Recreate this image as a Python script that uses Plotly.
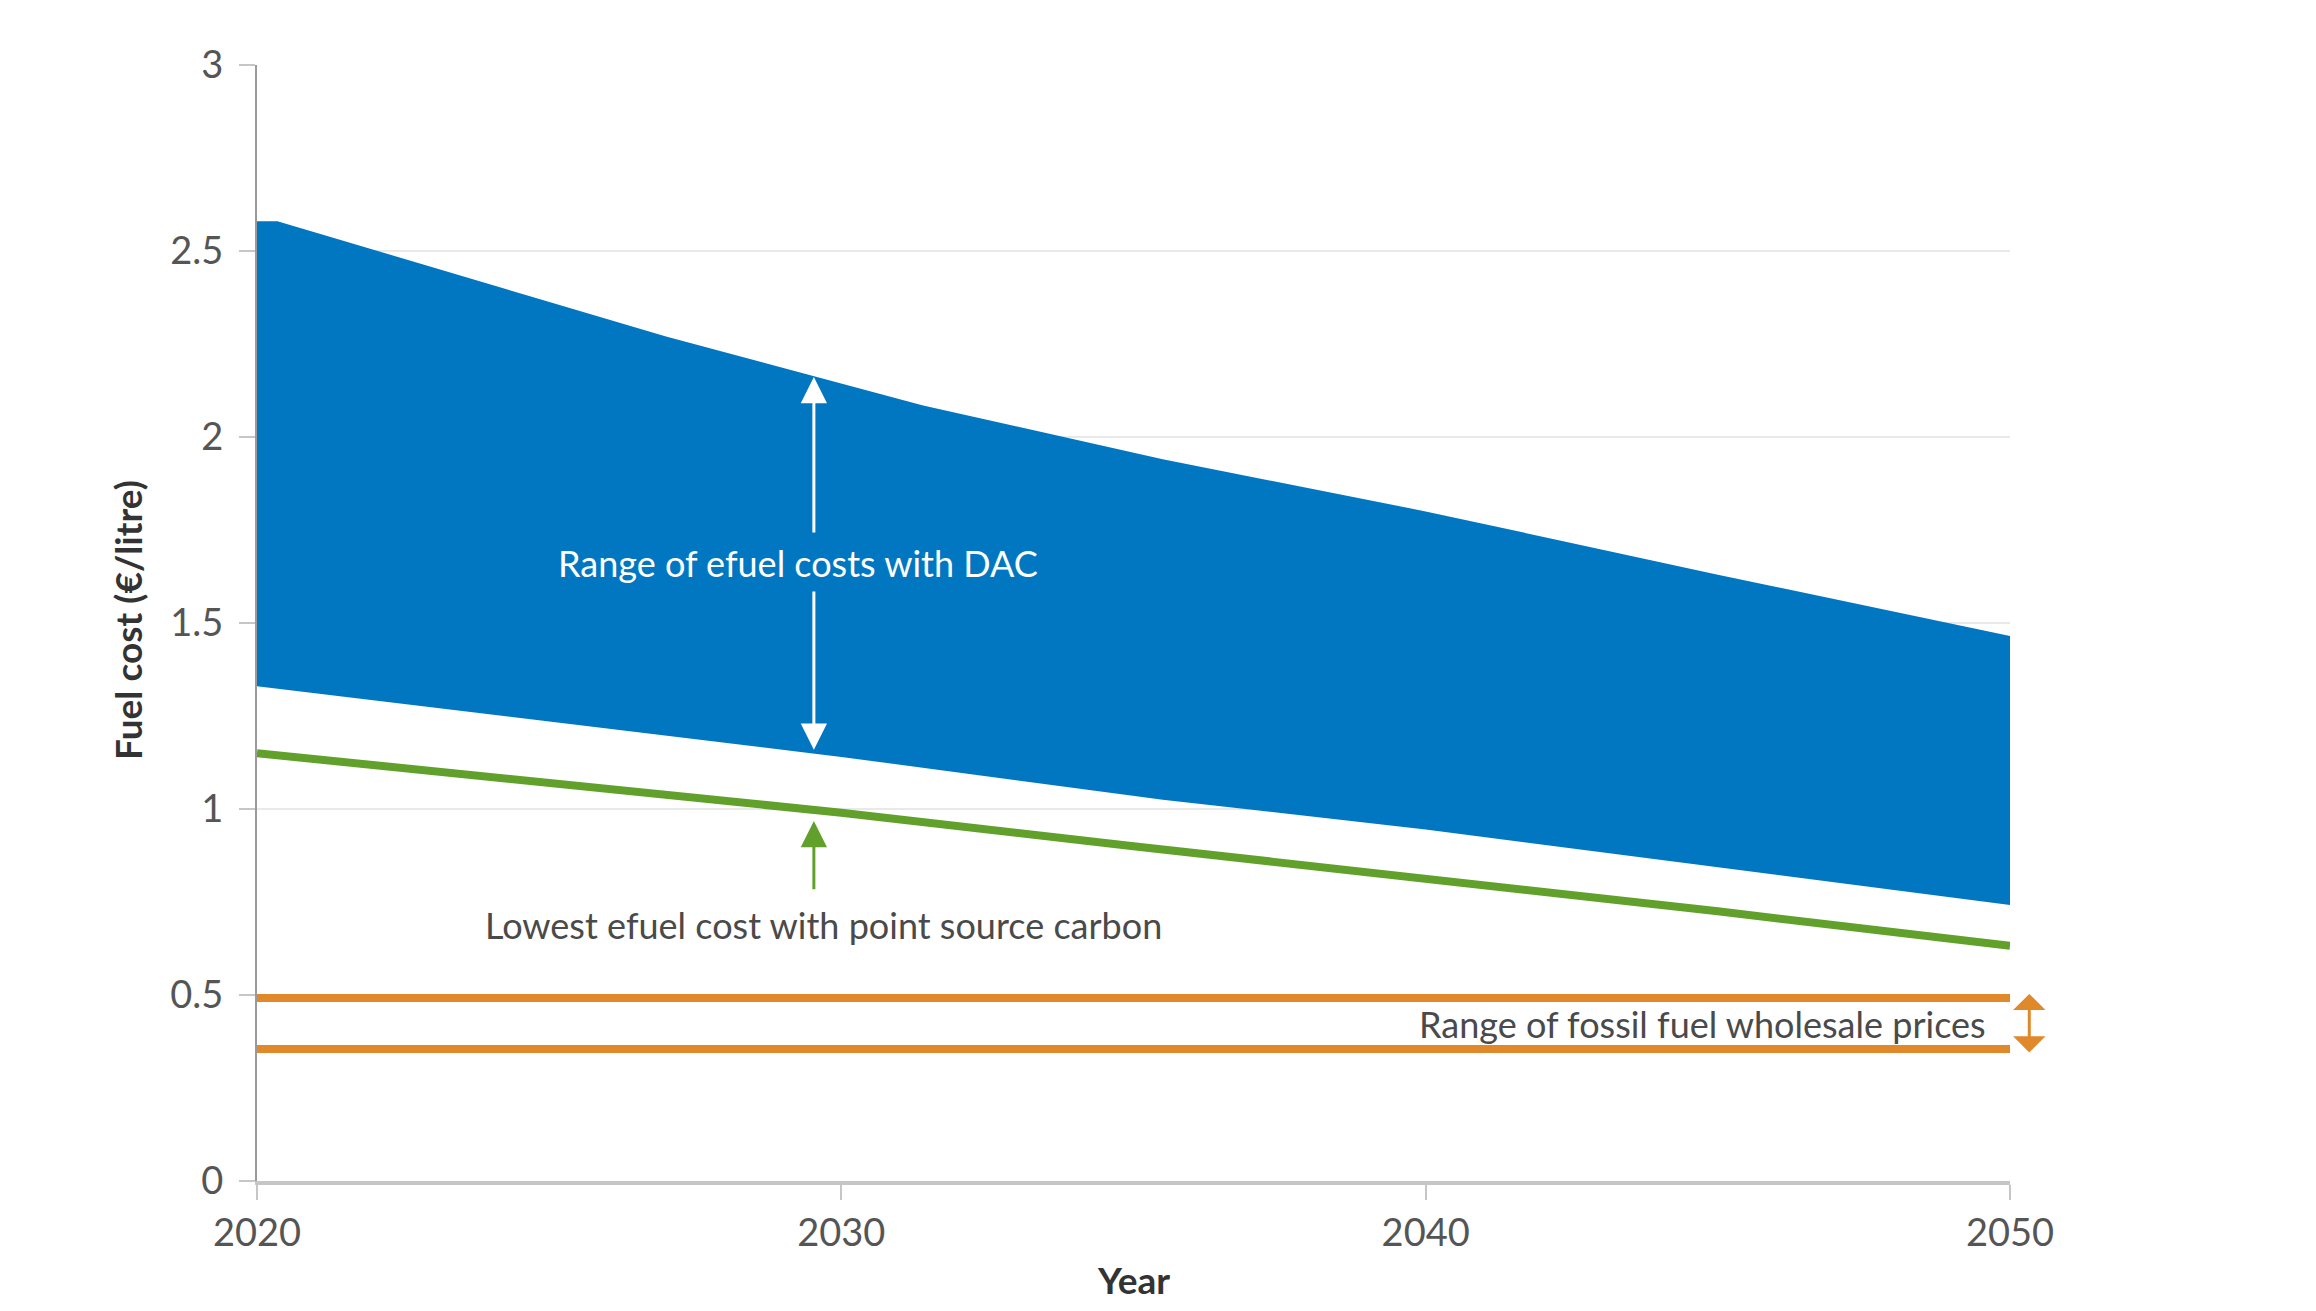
import plotly.graph_objects as go

# upper and lower edge of the DAC cost band (EUR/litre)
dac_high_years = [2020, 2020.35, 2027, 2029.5, 2031.4, 2035.5, 2040, 2045, 2050]
dac_high = [2.58, 2.58, 2.27, 2.165, 2.085, 1.94, 1.80, 1.63, 1.465]
dac_low_years = [2020, 2030, 2035.5, 2040, 2050]
dac_low = [1.33, 1.14, 1.025, 0.945, 0.742]

# lowest cost with point source carbon
point_years = [2020, 2025, 2030, 2035, 2040, 2045, 2050]
point_source = [1.15, 1.07, 0.99, 0.90, 0.815, 0.725, 0.632]

# fossil fuel wholesale price range
fossil_years = [2020, 2050]
fossil_high = [0.492, 0.492]
fossil_low = [0.355, 0.355]

year_ticks = [2020, 2030, 2040, 2050]

BLUE = "#0277c1"
GREEN = "#62a02c"
ORANGE = "#e0892a"
FONT = "Lato"

fig = go.Figure()

fig.add_trace(
    go.Scatter(
        x=dac_high_years + dac_low_years[::-1],
        y=dac_high + dac_low[::-1],
        fill="toself",
        fillcolor=BLUE,
        line=dict(width=0),
        mode="lines",
        hoverinfo="skip",
    )
)

fig.add_trace(
    go.Scatter(x=point_years, y=point_source, mode="lines",
               line=dict(color=GREEN, width=8))
)

for vals in (fossil_high, fossil_low):
    fig.add_trace(
        go.Scatter(x=fossil_years, y=vals, mode="lines",
                   line=dict(color=ORANGE, width=8))
    )

# arrows
arrow_x = 2029.53
for tip, tail in ((2.161, 1.739), (1.159, 1.589)):
    fig.add_annotation(
        x=arrow_x, y=tip, ax=arrow_x, ay=tail, xref="x", yref="y",
        axref="x", ayref="y", text="", showarrow=True,
        arrowhead=2, arrowsize=1.75, arrowwidth=3, arrowcolor="white",
    )
fig.add_annotation(
    x=arrow_x, y=0.968, ax=arrow_x, ay=0.78, xref="x", yref="y",
    axref="x", ayref="y", text="", showarrow=True,
    arrowhead=2, arrowsize=1.75, arrowwidth=3, arrowcolor=GREEN,
)
fig.add_annotation(
    x=1.011, y=0.503, xref="paper", yref="y", ax=0, ay=60,
    text="", showarrow=True, arrowside="end+start",
    arrowhead=1, arrowsize=1.8, arrowwidth=3, arrowcolor=ORANGE,
)

# labels
fig.add_annotation(
    x=2029.25, y=1.662, text="Range of efuel costs with DAC",
    showarrow=False, font=dict(family=FONT, size=36, color="white"),
)
fig.add_annotation(
    x=2029.7, y=0.689, text="Lowest efuel cost with point source carbon",
    showarrow=False, font=dict(family=FONT, size=36, color="#4a4a4a"),
)
fig.add_annotation(
    x=2049.63, y=0.421, xanchor="right", text="Range of fossil fuel wholesale prices",
    showarrow=False, font=dict(family=FONT, size=36, color="#4a4a4a"),
)

# axis titles
fig.add_annotation(
    x=-0.074, y=0.503, xref="paper", yref="paper", textangle=-90,
    xanchor="center", yanchor="middle",
    text="<b>Fuel cost (€/litre)</b>", showarrow=False,
    font=dict(family=FONT, size=37, color="#333333"),
)
fig.add_annotation(
    x=0.5, y=-0.088, xref="paper", yref="paper",
    xanchor="center", yanchor="middle",
    text="<b>Year</b>", showarrow=False,
    font=dict(family=FONT, size=37, color="#333333"),
)

# dark frame edge on the right
fig.add_shape(type="rect", xref="paper", yref="paper",
              x0=1.1729, x1=1.19, y0=-0.2, y1=1.2,
              fillcolor="#1b1b1b", line=dict(width=0))

fig.update_layout(
    width=2308,
    height=1303,
    autosize=False,
    showlegend=False,
    paper_bgcolor="white",
    plot_bgcolor="white",
    margin=dict(l=249, r=306, t=57, b=130),
    font=dict(family=FONT, size=38, color="#555555"),
)
fig.update_xaxes(
    range=[2020, 2050],
    tickvals=year_ticks,
    showgrid=False,
    zeroline=False,
    showline=True,
    linecolor="#c6c6c6",
    linewidth=4,
    ticks="outside",
    ticklen=15,
    tickwidth=2,
    tickcolor="#c6c6c6",
)
fig.update_yaxes(
    range=[0, 3],
    dtick=0.5,
    showgrid=True,
    gridcolor="#e9e9e9",
    gridwidth=2,
    zeroline=False,
    showline=True,
    linecolor="#9a9a9a",
    linewidth=2,
    ticks="outside",
    ticklen=16,
    tickwidth=2,
    tickcolor="#c6c6c6",
    ticklabelstandoff=8,
)

fig.write_html("out.html")
